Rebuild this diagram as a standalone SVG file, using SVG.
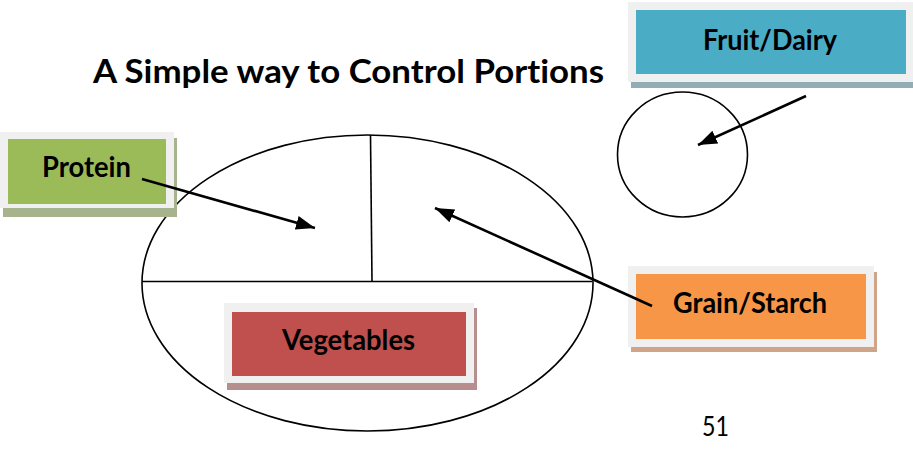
<svg xmlns="http://www.w3.org/2000/svg" width="913" height="460" viewBox="0 0 913 460">
<style>
.frame{fill:#f0f0f0}
text{font-variant-ligatures:none}
.lbl{font-family:Lato,"Open Sans","Noto Sans",sans-serif;font-weight:bold;font-size:28px;fill:#000;text-anchor:middle}
.title{font-family:Lato,"Open Sans","Noto Sans",sans-serif;font-weight:bold;font-size:32px;fill:#000;text-anchor:middle}
.num{font-family:Lato,"Open Sans","Noto Sans",sans-serif;font-size:26px;fill:#000;text-anchor:middle}
.plate{fill:none;stroke:#000;stroke-width:1.6}
.conn{stroke:#000;stroke-width:2.6;fill:none;marker-end:url(#ah)}
</style>
<defs>
<marker id="ah" markerUnits="userSpaceOnUse" markerWidth="20" markerHeight="16" viewBox="0 0 20 16" refX="19" refY="8" orient="auto">
<path d="M0,1 L19,8 L0,15 Z" fill="#000"/>
</marker>
</defs>
<rect width="913" height="460" fill="#fff"/>
<text class="title" x="348.5" y="83" textLength="511" lengthAdjust="spacingAndGlyphs">A Simple way to Control Portions</text>
<g id="plate">
<ellipse class="plate" cx="367.5" cy="283" rx="225.5" ry="148"/>
<line class="plate" x1="142" y1="281.5" x2="592" y2="281.5"/>
<line class="plate" x1="370.5" y1="135" x2="372" y2="281.5"/>
</g>
<g id="cup">
<ellipse class="plate" cx="682.5" cy="154.5" rx="65" ry="62.5"/>
</g>
<g id="protein">
<rect x="3" y="138" width="174" height="79" fill="#a6b38c"/>
<rect class="frame" x="0" y="132" width="174" height="76"/>
<rect x="8" y="139" width="158" height="65" fill="#9bbb59"/>
<text class="lbl" x="86.5" y="177" textLength="89" lengthAdjust="spacingAndGlyphs">Protein</text>
</g>
<g id="fruit">
<rect x="631" y="8" width="282" height="80" fill="#91adb5"/>
<rect class="frame" x="628" y="2" width="285" height="80"/>
<rect x="636" y="10" width="270" height="64" fill="#4bacc6"/>
<text class="lbl" x="770" y="50" textLength="134" lengthAdjust="spacingAndGlyphs">Fruit/Dairy</text>
</g>
<g id="grain">
<rect x="631" y="272" width="246" height="80" fill="#d0a488"/>
<rect class="frame" x="628" y="266" width="246" height="81"/>
<rect x="636" y="274" width="230" height="65" fill="#f79646"/>
<text class="lbl" x="750" y="313" textLength="154" lengthAdjust="spacingAndGlyphs">Grain/Starch</text>
</g>
<g id="vegetables">
<rect x="227" y="308" width="250" height="82" fill="#b68e8e"/>
<rect class="frame" x="224" y="303" width="250" height="80"/>
<rect x="232" y="312" width="234" height="64" fill="#c0504d"/>
<text class="lbl" x="348.5" y="350" textLength="133" lengthAdjust="spacingAndGlyphs">Vegetables</text>
</g>
<g id="connectors">
<line class="conn" x1="142" y1="179" x2="315" y2="228"/>
<line class="conn" x1="652" y1="306" x2="435" y2="208"/>
<line class="conn" x1="806" y1="96" x2="698" y2="145"/>
</g>
<text class="num" x="715.5" y="436" textLength="27" lengthAdjust="spacingAndGlyphs">51</text>
</svg>
